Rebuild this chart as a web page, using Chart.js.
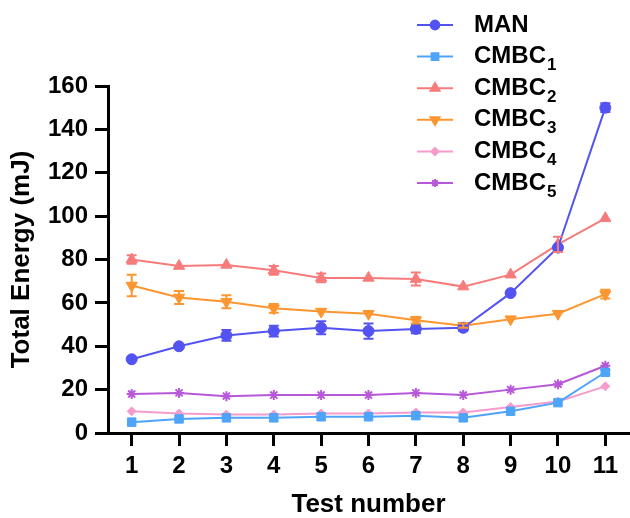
<!DOCTYPE html>
<html>
<head>
<meta charset="utf-8">
<script src="https://cdn.jsdelivr.net/npm/chart.js@4/dist/chart.umd.min.js"></script>
<style>
html,body{margin:0;padding:0;background:#fff;}
#wrap{width:630px;height:518px;position:relative;}
</style>
</head>
<body>
<div id="wrap"><canvas id="c" width="630" height="518"></canvas></div>
<script>
const categories = ['1','2','3','4','5','6','7','8','9','10','11'];

const manValues   = [34, 40, 45, 47, 48.5, 47, 48, 48.5, 64.5, 85.5, 150];
const manErrors   = [0, 0, 2.5, 2.5, 3, 3.5, 2, 1.5, 0, 1, 2];
const cmbc1Values = [5, 6.5, 7, 7, 7.5, 7.5, 8, 7, 10, 14, 28];
const cmbc1Errors = [0, 0, 0, 0, 0, 0, 0, 0, 0, 0, 1];
const cmbc2Values = [80, 77, 77.5, 75, 71.5, 71.5, 71, 67.5, 73, 87, 99];
const cmbc2Errors = [2, 0, 0, 2, 2, 0, 3, 0, 0, 3.5, 0];
const cmbc3Values = [68, 62.5, 60.5, 57.5, 56, 55, 52, 49.5, 52.5, 55, 64];
const cmbc3Errors = [5, 3, 3, 2, 0, 0, 1.5, 1, 0, 0, 2];
const cmbc4Values = [10, 9, 8.5, 8.5, 9, 9, 9.5, 9.5, 12, 14.5, 21.5];
const cmbc4Errors = [0, 0, 0, 0, 0, 0, 0, 0, 0, 0, 0];
const cmbc5Values = [18, 18.5, 17, 17.5, 17.5, 17.5, 18.5, 17.5, 20, 22.5, 31];
const cmbc5Errors = [0, 0, 0, 0, 0, 0, 0, 0, 0, 0, 0];

const seriesNames = ['MAN', 'CMBC', 'CMBC', 'CMBC', 'CMBC', 'CMBC'];
const seriesSubs  = ['', '1', '2', '3', '4', '5'];
const yTicks = [0, 20, 40, 60, 80, 100, 120, 140, 160];

const FONT = '"Liberation Sans", Arial, Helvetica, sans-serif';

function ds(label, data, errors, color, style, radius, rotation) {
  return {
    label, data, errors,
    borderColor: color, backgroundColor: color,
    pointBackgroundColor: color, pointBorderColor: color,
    pointStyle: style, pointRadius: radius, pointRotation: rotation || 0,
    pointBorderWidth: style === 'star' ? 2 : 1,
    borderWidth: 2, tension: 0, fill: false, clip: 10
  };
}

const datasets = [
  ds('MAN', manValues, manErrors, '#5353f2', 'circle', 5.5),
  ds('CMBC1', cmbc1Values, cmbc1Errors, '#4ea4f8', 'rect', 6),
  ds('CMBC2', cmbc2Values, cmbc2Errors, '#f77b7b', 'triangle', 6.5),
  ds('CMBC3', cmbc3Values, cmbc3Errors, '#fd9630', 'triangle', 6.5, 180),
  ds('CMBC4', cmbc4Values, cmbc4Errors, '#f59ccc', 'rectRot', 4.5),
  ds('CMBC5', cmbc5Values, cmbc5Errors, '#b658d8', 'star', 5)
];

const errorBars = {
  id: 'errorBars',
  afterDatasetsDraw(chart) {
    const ctx = chart.ctx;
    const ys = chart.scales.y;
    chart.data.datasets.forEach((d, i) => {
      const meta = chart.getDatasetMeta(i);
      ctx.save();
      ctx.strokeStyle = d.borderColor;
      ctx.lineWidth = 2;
      d.data.forEach((v, j) => {
        const e = d.errors[j];
        if (!e) return;
        const x = meta.data[j].x;
        const y1 = ys.getPixelForValue(v - e);
        const y2 = ys.getPixelForValue(v + e);
        ctx.beginPath();
        ctx.moveTo(x, y1); ctx.lineTo(x, y2);
        ctx.moveTo(x - 5, y1); ctx.lineTo(x + 5, y1);
        ctx.moveTo(x - 5, y2); ctx.lineTo(x + 5, y2);
        ctx.stroke();
      });
      ctx.restore();
    });
  }
};

const customLegend = {
  id: 'customLegend',
  afterDraw(chart) {
    const ctx = chart.ctx;
    const x0 = 417, x1 = 453, tx = 474, top = 25, step = 31.6;
    chart.data.datasets.forEach((d, i) => {
      const y = top + i * step;
      ctx.save();
      ctx.strokeStyle = d.borderColor;
      ctx.fillStyle = d.borderColor;
      ctx.lineWidth = 2;
      ctx.beginPath(); ctx.moveTo(x0, y); ctx.lineTo(x1, y); ctx.stroke();
      Chart.helpers.drawPoint(ctx, {
        pointStyle: d.pointStyle, radius: d.pointRadius * 0.8,
        rotation: d.pointRotation, borderWidth: d.pointBorderWidth
      }, (x0 + x1) / 2, y);
      ctx.restore();
      ctx.save();
      ctx.fillStyle = '#000';
      ctx.textBaseline = 'middle';
      ctx.textAlign = 'left';
      ctx.font = 'bold 24px ' + FONT;
      const name = seriesNames[i];
      ctx.fillText(name, tx, y);
      if (seriesSubs[i]) {
        const w = ctx.measureText(name).width;
        ctx.font = 'bold 17px ' + FONT;
        ctx.fillText(seriesSubs[i], tx + w + 1, y + 9);
      }
      ctx.restore();
    });
  }
};

new Chart(document.getElementById('c'), {
  type: 'line',
  data: { labels: categories, datasets },
  plugins: [errorBars, customLegend],
  options: {
    responsive: false,
    animation: false,
    devicePixelRatio: 1,
    layout: { autoPadding: false, padding: { top: 86, right: 1, left: 9, bottom: 0 } },
    plugins: { legend: { display: false }, tooltip: { enabled: false } },
    scales: {
      x: {
        type: 'category',
        offset: true,
        grid: { display: true, offset: false, drawOnChartArea: false, drawTicks: true,
                tickLength: 13, tickWidth: 3, tickColor: '#000' },
        border: { display: true, width: 3, color: '#000' },
        ticks: { color: '#000', font: { family: FONT, size: 24, weight: 'bold' }, padding: 6, maxRotation: 0 },
        title: { display: true, text: 'Test number', color: '#000',
                 font: { family: FONT, size: 26, weight: 'bold', lineHeight: 1 }, padding: { top: 10, bottom: 0 } },
        afterFit(s) { s.height = 85; s.paddingLeft = 0; s.paddingRight = 0; }
      },
      y: {
        min: 0, max: 160,
        afterBuildTicks(s) { s.ticks = yTicks.map(v => ({ value: v })); },
        grid: { display: true, drawOnChartArea: false, drawTicks: true,
                tickLength: 13, tickWidth: 3, tickColor: '#000' },
        border: { display: true, width: 3, color: '#000' },
        ticks: { color: '#000', font: { family: FONT, size: 24, weight: 'bold' }, padding: 7 },
        title: { display: true, text: 'Total Energy (mJ)', color: '#000',
                 font: { family: FONT, size: 26, weight: 'bold', lineHeight: 1 }, padding: { top: 0, bottom: 8 } },
        afterFit(s) { s.width = 99; s.paddingTop = 0; s.paddingBottom = 0; }
      }
    }
  }
});
</script>
</body>
</html>
